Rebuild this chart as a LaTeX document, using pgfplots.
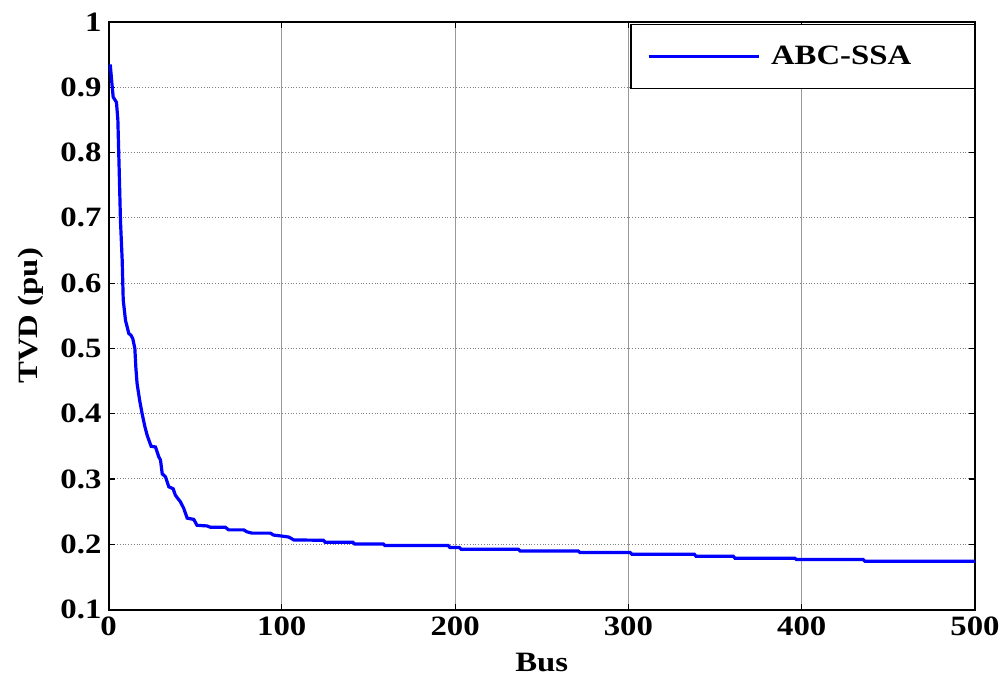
\documentclass[border=0pt]{standalone}
\usepackage{fontspec}
\setmainfont{Liberation Serif}[FakeStretch=1.17]
\usepackage{pgfplots}
\pgfplotsset{compat=1.18}
\begin{document}
\begin{tikzpicture}
\begin{axis}[
  name=ax,
  scale only axis,
  width=433.25pt, height=293.75pt,
  xmin=0, xmax=500, ymin=0.1, ymax=1,
  xtick={0,100,...,500},
  ytick={0.1,0.2,...,1.0},
  yticklabels={0.1,0.2,0.3,0.4,0.5,0.6,0.7,0.8,0.9,1},
  /pgf/number format/assume math mode=true,
  ticklabel style={font=\fontsize{14}{14}\selectfont\bfseries},
  tick align=inside,
  major tick length=3pt,
  tick style={black, line width=0.6pt},
  axis line style={black, line width=1pt},
  grid=major,
  x grid style={gray!80, line width=0.4pt},
  y grid style={gray, densely dotted, line width=0.5pt},
  xlabel={Bus}, ylabel={TVD (pu)},
  every axis x label/.style={at={(axis description cs:0.5,-0.09)}, anchor=center, font=\fontsize{14}{14}\selectfont\bfseries},
  every axis y label/.style={at={(axis description cs:-0.09,0.5)}, rotate=90, anchor=center, font=\fontsize{14}{14}\selectfont\bfseries},
  legend style={at={(axis description cs:1,1)}, anchor=north east, yshift=-1pt,
    draw=black, line width=0.75pt, inner xsep=8pt, inner ysep=8.5pt,
    font=\fontsize{14}{14}\selectfont\bfseries},
  legend image code/.code={\draw[#1, line width=1.5pt] (0pt,0pt) -- (55pt,0pt);},
]
\addplot[blue, line width=1.6pt] coordinates {
(1,0.935) (2,0.905) (2.7,0.885) (4.6,0.877) (5.4,0.85) (6.2,0.77) (6.9,0.696)
(7.9,0.635) (8.5,0.574) (9.8,0.543) (11.7,0.523) (13,0.52) (14,0.515) (15.2,0.50)
(15.8,0.47) (16.5,0.446) (18,0.42) (19.4,0.40) (21,0.38) (22.3,0.367) (23.5,0.358)
(24.6,0.350) (27.1,0.349) (29,0.334) (30,0.329) (31,0.308) (32.9,0.303) (34.8,0.288)
(37.3,0.285) (38.6,0.275) (41.5,0.265) (43.4,0.255) (45.4,0.240) (49.2,0.238)
(51.1,0.229) (56.9,0.228) (58.8,0.226) (67.4,0.226) (69.3,0.222) (78,0.222)
(79.9,0.219) (82.8,0.217) (93.4,0.217) (95.3,0.214) (100,0.2125) (104,0.211)
(107,0.2065) (124,0.2061) (125,0.2031) (141,0.2031) (142,0.2005) (158.5,0.2005)
(159.5,0.198) (196,0.198) (197,0.195) (202.5,0.195) (203.5,0.1923) (236.5,0.1923)
(237.5,0.1897) (271,0.1897) (272,0.1873) (301,0.1873) (302,0.1847) (338,0.1847)
(339,0.1816) (360.5,0.1816) (361.5,0.1786) (396,0.1786) (397,0.1765) (435.5,0.1765)
(436.5,0.174) (500,0.174)
};
\addlegendentry{\hspace{3.5pt}ABC-SSA\rule{21.5pt}{0pt}}
\end{axis}
\pgfresetboundingbox
\path ([xshift=-54.25pt,yshift=-34.25pt]ax.south west) rectangle ([xshift=15.5pt,yshift=11pt]ax.north east);
\end{tikzpicture}
\end{document}
